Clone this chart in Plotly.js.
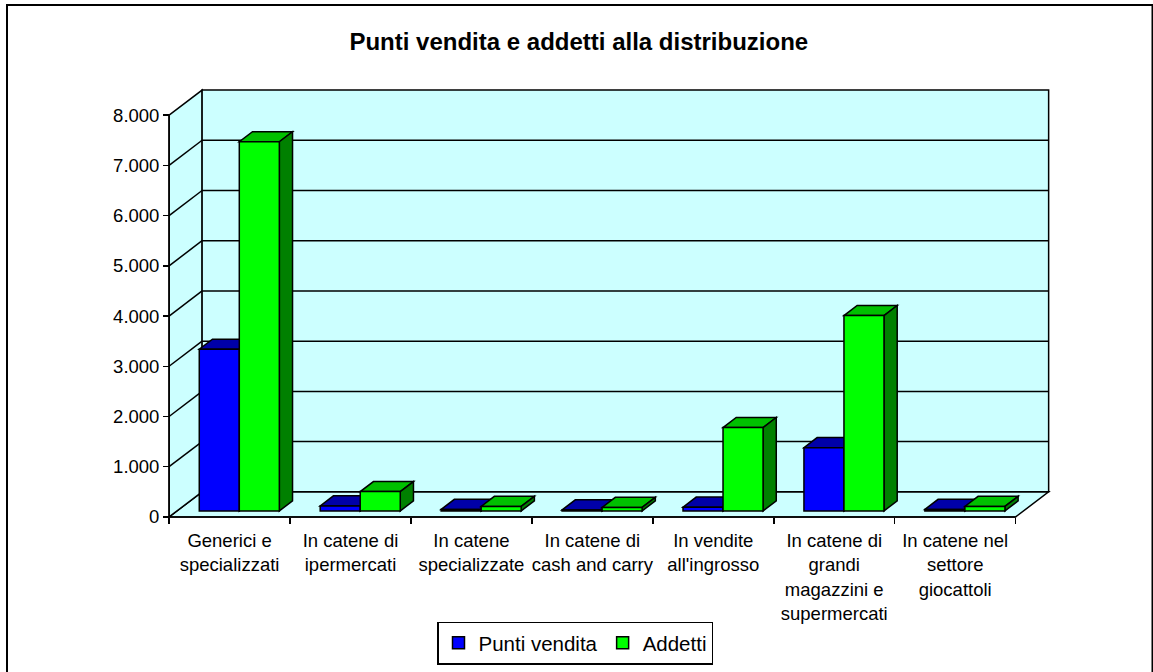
<!DOCTYPE html>
<html>
<head>
<meta charset="utf-8">
<script src="https://cdn.plot.ly/plotly-3.0.1.min.js"></script>
<style>
  html, body { margin: 0; padding: 0; background: #ffffff; }
  #chart { width: 1153px; height: 672px; }
</style>
</head>
<body>
<div id="chart"></div>
<script>
// ---- Data ----
const categories = [
  "Generici e<br>specializzati",
  "In catene di<br>ipermercati",
  "In catene<br>specializzate",
  "In catene di<br>cash and carry",
  "In vendite<br>all'ingrosso",
  "In catene di<br>grandi<br>magazzini e<br>supermercati",
  "In catene nel<br>settore<br>giocattoli"
];
const seriesNames = ["Punti vendita", "Addetti"];
const puntiVendita = [3220, 100, 30, 20, 75, 1260, 30];
const addetti = [7350, 385, 90, 70, 1660, 3890, 90];
const yTickVals = [0, 1000, 2000, 3000, 4000, 5000, 6000, 7000, 8000];

// ---- Style / geometry constants ----
const W = 1153, H = 672;
const M = { l: 157, r: 89, t: 80, b: 140 };
const PW = W - M.l - M.r, PH = H - M.t - M.b;
const XR = [-0.6, 6.9], YR = [-300, 8700];
const YMAX = 8000;
const DX = 0.273, DY = 500;          // full depth of the 3D box (data units)
const F1 = 0.24, F2 = 0.64;          // bar front / back depth fractions
const BASE = F1 * DY;
const DXB = (F2 - F1) * DX, DYB = (F2 - F1) * DY;
const BW = 0.331;                    // bar width (category units)
const SH = F1 * DX + 0.015;          // depth shift of bars
const WALL = "#CCFFFF";
const EDGE = { color: "#000000", width: 1.5 };
const frontCols = ["#0000FF", "#00FF00"];
const topCols = ["#0000A8", "#00C000"];
const sideCols = ["#000080", "#008000"];
const offsets = [-BW + SH, SH];
const nCat = categories.length;
const xL = -0.5, xRt = nCat - 0.5;

function P(pts) {
  return "M" + pts.map(p => p[0].toFixed(4) + "," + p[1].toFixed(2)).join(" L") + " Z";
}

const shapes = [];
// floor
shapes.push({ type: "path", xref: "x", yref: "y", layer: "below",
  path: P([[xL, 0], [xRt, 0], [xRt + DX, DY], [xL + DX, DY]]),
  fillcolor: WALL, line: EDGE });
// left wall
shapes.push({ type: "path", xref: "x", yref: "y", layer: "below",
  path: P([[xL, 0], [xL, YMAX], [xL + DX, YMAX + DY], [xL + DX, DY]]),
  fillcolor: WALL, line: EDGE });
// back wall
shapes.push({ type: "rect", xref: "x", yref: "y", layer: "below",
  x0: xL + DX, x1: xRt + DX, y0: DY, y1: YMAX + DY,
  fillcolor: WALL, line: EDGE });
// gridlines
yTickVals.forEach(v => {
  if (v === 0 || v === YMAX) return;
  shapes.push({ type: "line", xref: "x", yref: "y", layer: "below",
    x0: xL + DX, x1: xRt + DX, y0: v + DY, y1: v + DY, line: EDGE });
  shapes.push({ type: "line", xref: "x", yref: "y", layer: "below",
    x0: xL, x1: xL + DX, y0: v, y1: v + DY, line: EDGE });
});
// bar tops and sides
const allSeries = [puntiVendita, addetti];
for (let i = 0; i < nCat; i++) {
  allSeries.forEach((vals, s) => {
    const v = vals[i];
    const x0 = i + offsets[s], x1 = x0 + BW;
    const yt = BASE + v;
    shapes.push({ type: "path", xref: "x", yref: "y", layer: "below",
      path: P([[x0, yt], [x1, yt], [x1 + DXB, yt + DYB], [x0 + DXB, yt + DYB]]),
      fillcolor: topCols[s], line: EDGE });
    shapes.push({ type: "path", xref: "x", yref: "y", layer: "below",
      path: P([[x1, BASE], [x1, yt], [x1 + DXB, yt + DYB], [x1 + DXB, BASE + DYB]]),
      fillcolor: sideCols[s], line: EDGE });
  });
}
// outer chart border (paper coords from pixel positions)
const px2x = px => (px - M.l) / PW;
const py2y = py => (H - M.b - py) / PH;
shapes.push({ type: "rect", xref: "paper", yref: "paper", layer: "above",
  x0: px2x(7), x1: px2x(1152.5), y0: py2y(690), y1: py2y(5),
  fillcolor: "rgba(0,0,0,0)", line: { color: "#000000", width: 2 } });

const traces = allSeries.map((vals, s) => ({
  type: "bar",
  name: seriesNames[s],
  x: categories,
  y: vals,
  base: BASE,
  offset: offsets[s],
  width: BW,
  marker: { color: frontCols[s], line: { color: "#000000", width: 1.5 } },
  hoverinfo: "skip"
}));

const FONT = "'Liberation Sans', Arial, sans-serif";
const layout = {
  width: W, height: H,
  margin: M,
  paper_bgcolor: "#ffffff",
  plot_bgcolor: "rgba(0,0,0,0)",
  separators: ",.",
  barmode: "overlay",
  showlegend: true,
  font: { family: FONT, color: "#000000", size: 18 },
  title: {
    text: "<b>Punti vendita e addetti alla distribuzione</b>",
    font: { family: FONT, size: 24, color: "#000000" },
    xref: "container", x: 0.502, xanchor: "center",
    yref: "container", y: 1 - 42 / H, yanchor: "middle"
  },
  xaxis: {
    type: "category",
    range: XR,
    anchor: "free",
    position: (0 - YR[0]) / (YR[1] - YR[0]),
    showline: false, showgrid: false, zeroline: false,
    ticks: "outside", tickson: "boundaries", ticklen: 6, tickwidth: 1.5, tickcolor: "#000000",
    tickangle: 0,
    ticklabelstandoff: 11,
    tickfont: { family: FONT, size: 18.5, color: "#000000" },
    fixedrange: true
  },
  yaxis: {
    range: YR,
    anchor: "free",
    position: (xL - XR[0]) / (XR[1] - XR[0]),
    tickvals: yTickVals,
    tickformat: ",d",
    showline: false, showgrid: false, zeroline: false,
    ticks: "outside", ticklen: 6, tickwidth: 1.5, tickcolor: "#000000",
    tickfont: { family: FONT, size: 18.5, color: "#000000" },
    fixedrange: true
  },
  legend: {
    orientation: "h",
    xref: "container", yref: "container",
    x: 575 / W, xanchor: "center",
    y: 1 - 643 / H, yanchor: "middle",
    bgcolor: "#ffffff",
    bordercolor: "#000000", borderwidth: 1.5,
    font: { family: FONT, size: 20.5, color: "#000000" },
    itemwidth: 30,
    traceorder: "normal"
  },
  shapes: shapes
};

// front edges of the box
layout.shapes.push({ type: "line", xref: "x", yref: "y", layer: "below",
  x0: xL, x1: xL, y0: 0, y1: YMAX, line: EDGE });
layout.shapes.push({ type: "line", xref: "x", yref: "y", layer: "below",
  x0: xL, x1: xRt, y0: 0, y1: 0, line: EDGE });

Plotly.newPlot("chart", traces, layout, { displayModeBar: false, staticPlot: true });
</script>
</body>
</html>
